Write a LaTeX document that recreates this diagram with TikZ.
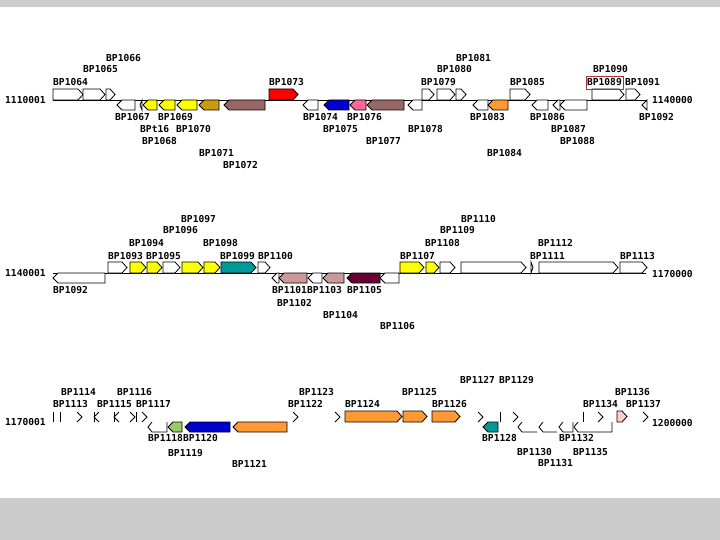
\documentclass[tikz,border=0pt]{standalone}
\usepackage{fontspec}
\setmonofont{DejaVu Sans Mono}
\definecolor{bandgray}{HTML}{CCCCCC}
\definecolor{geneyellow}{HTML}{FFFF00}
\definecolor{genered}{HTML}{FF0000}
\definecolor{genegold}{HTML}{CC9910}
\definecolor{genebrown}{HTML}{996666}
\definecolor{geneblue}{HTML}{0000CC}
\definecolor{generose}{HTML}{FF6699}
\definecolor{geneorange}{HTML}{FF9933}
\definecolor{geneteal}{HTML}{009999}
\definecolor{genemauve}{HTML}{CC9999}
\definecolor{genemaroon}{HTML}{660033}
\definecolor{genegreen}{HTML}{99CC66}
\definecolor{genepink}{HTML}{FFCCCC}
\definecolor{boxred}{HTML}{AA3333}

\begin{document}
\begin{tikzpicture}[
  x=1pt, y=-1pt,
  gene/.style={draw=black, line width=0.8pt, line join=miter},
  stroke/.style={draw=black, line width=0.8pt},
  axis/.style={draw=black, line width=0.9pt},
  lbl/.style={anchor=west, inner sep=0pt, font=\fontsize{9.6}{10}\selectfont\ttfamily\bfseries},
  boxlbl/.style={lbl, draw=boxred, line width=0.8pt, inner xsep=1.2pt, minimum height=13pt},
]
\useasboundingbox (0,0) rectangle (720,540);
\fill[bandgray] (0,0) rectangle (720,7);
\fill[bandgray] (0,498) rectangle (720,540);

% axis lines
\draw[axis] (53,100) -- (646,100);
\draw[axis] (53,273) -- (646,273);

% forward genes
\foreach \a/\b/\c/\y in {53/83/white/100, 83/105/white/100, 106/115/white/100, 269/298/genered/100,
    422/434/white/100, 437/455/white/100, 456/466/white/100, 510/530/white/100, 592/624/white/100, 626/640/white/100,
    108/127/white/273, 130/146/geneyellow/273, 147/162/geneyellow/273, 163/180/white/273, 182/203/geneyellow/273,
    204/220/geneyellow/273, 221/256/geneteal/273, 258/270/white/273, 400/424/geneyellow/273, 426/439/geneyellow/273,
    440/455/white/273, 461/526/white/273, 531/533/white/273, 539/618/white/273, 620/647/white/273,
    345/402/geneorange/422, 403/427/geneorange/422, 432/460/geneorange/422, 617/627/genepink/422}
  \draw[gene, fill=\c] (\a,{\y-11}) -- ({max(\a,\b-5)},{\y-11}) -- (\b,{\y-5.5}) -- ({max(\a,\b-5)},\y) -- (\a,\y) -- cycle;

% reverse genes
\foreach \a/\b/\c/\y in {117/135/white/100, 140/142/white/100, 143/157/geneyellow/100, 159/175/geneyellow/100,
    177/197/geneyellow/100, 199/219/genegold/100, 224/265/genebrown/100, 303/318/white/100, 324/349/geneblue/100,
    350/366/generose/100, 367/404/genebrown/100, 408/422/white/100, 473/488/white/100, 488/508/geneorange/100,
    532/548/white/100, 553/560/white/100, 560/587/white/100, 642/647/white/100,
    53/105/white/273, 272/279/white/273, 279/307/genemauve/273, 308/322/white/273, 323/344/genemauve/273,
    347/380/genemaroon/273, 380/399/white/273,
    168/182/genegreen/422, 185/230/geneblue/422, 233/287/geneorange/422, 483/498/geneteal/422}
  \draw[gene, fill=\c] (\b,\y) -- ({min(\b,\a+5)},\y) -- (\a,{\y+5}) -- ({min(\b,\a+5)},{\y+10}) -- (\b,{\y+10}) -- cycle;

% open reverse genes of the third row
\foreach \a/\b in {518/537, 539/557}
  \draw[stroke] ({\a+4},422) -- (\a,427) -- ({\a+4},432) -- (\b,432);
\foreach \a/\b in {148/167, 559/573, 574/612}
  \draw[stroke] ({\a+4},422) -- (\a,427) -- ({\a+4},432) -- (\b,432) -- (\b,422);

% small strokes of the third row
\foreach \x in {53, 60, 94, 114, 136, 500, 583}
  \draw[stroke] (\x,412) -- (\x,422);
\foreach \x in {77, 130, 142, 293, 335, 478, 513, 598, 643}
  \draw[stroke] (\x,412) -- ({\x+5},417) -- (\x,422);
\foreach \x in {94, 114}
  \draw[stroke] ({\x+5},412) -- (\x,417) -- ({\x+5},422);

% positions
\foreach \x/\y/\t in {5/100/1110001, 652/100/1140000, 5/273/1140001, 652/274/1170000, 5/422/1170001, 652/423/1200000}
  \node[lbl] (pos-\t) at (\x,\y) {\t};

% gene names
\foreach \x/\y/\t in {106/58/BP1066, 83/69/BP1065, 53/82/BP1064, 269/82/BP1073, 456/58/BP1081, 437/69/BP1080,
    421/82/BP1079, 510/82/BP1085, 593/69/BP1090, 625/82/BP1091,
    115/117/BP1067, 158/117/BP1069, 140/129/BPt16, 176/129/BP1070, 142/141/BP1068, 199/153/BP1071, 223/165/BP1072,
    303/117/BP1074, 323/129/BP1075, 347/117/BP1076, 408/129/BP1078, 366/141/BP1077, 470/117/BP1083, 487/153/BP1084,
    530/117/BP1086, 551/129/BP1087, 560/141/BP1088, 639/117/BP1092}
  \node[lbl] (r1-\t) at (\x,\y) {\t};
\node[boxlbl] (r1-BP1089) at (585.5,82.5) {BP1089};

\foreach \x/\y/\t in {181/219/BP1097, 163/230/BP1096, 129/243/BP1094, 203/243/BP1098, 108/256/BP1093, 146/256/BP1095,
    220/256/BP1099, 258/256/BP1100, 461/219/BP1110, 440/230/BP1109, 425/243/BP1108, 538/243/BP1112, 400/256/BP1107,
    530/256/BP1111, 620/256/BP1113,
    53/290/BP1092, 272/290/BP1101, 307/290/BP1103, 347/290/BP1105, 277/303/BP1102, 323/315/BP1104, 380/326/BP1106}
  \node[lbl] (r2-\t) at (\x,\y) {\t};

\foreach \x/\y/\t in {61/392/BP1114, 53/404/BP1113, 117/392/BP1116, 97/404/BP1115, 136/404/BP1117, 299/392/BP1123,
    288/404/BP1122, 345/404/BP1124, 402/392/BP1125, 432/404/BP1126, 460/380/BP1127, 499/380/BP1129, 583/404/BP1134,
    615/392/BP1136, 626/404/BP1137,
    148/438/BP1118, 183/438/BP1120, 168/453/BP1119, 232/464/BP1121, 482/438/BP1128, 559/438/BP1132, 517/452/BP1130,
    573/452/BP1135, 538/463/BP1131}
  \node[lbl] (r3-\t) at (\x,\y) {\t};
\end{tikzpicture}
\end{document}
